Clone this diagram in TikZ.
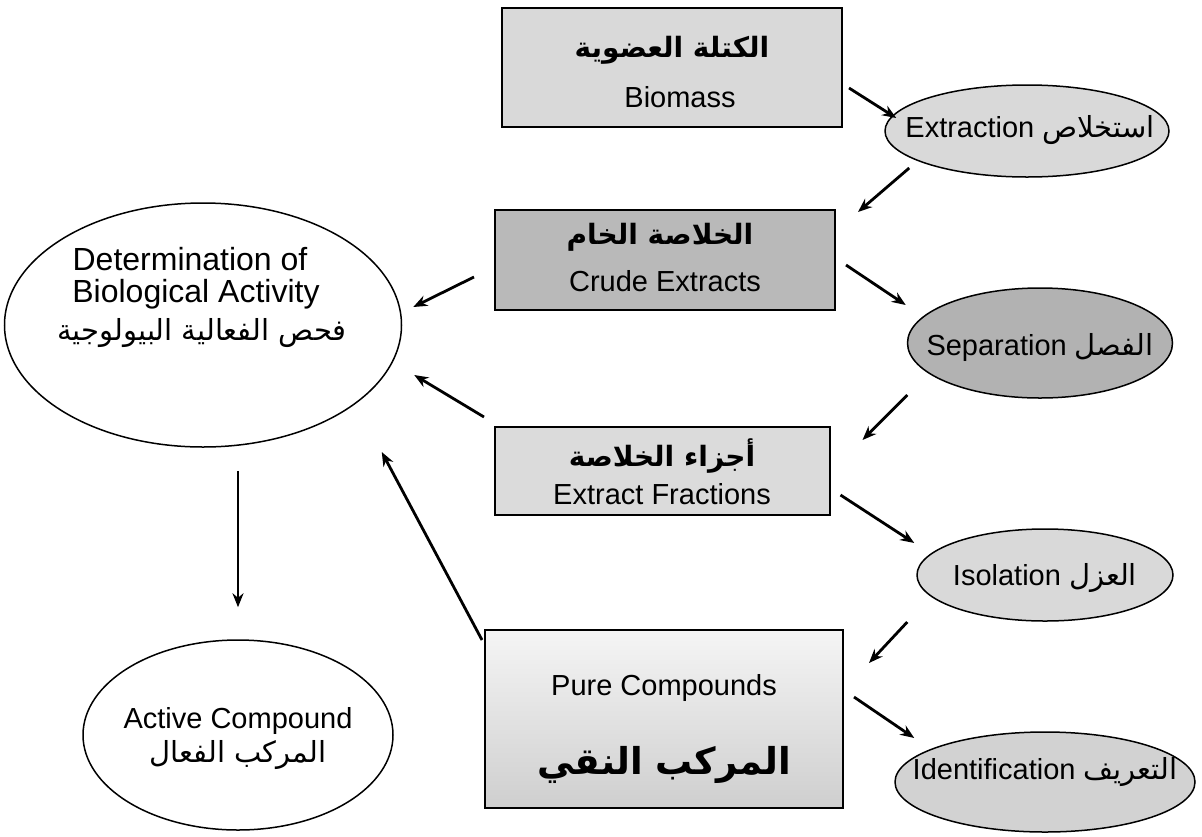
\documentclass[tikz,border=0pt]{standalone}
\usepackage{fontspec}
\setmainfont{Liberation Sans}
\newfontfamily\arfont[Script=Arabic]{DejaVu Sans}
\TeXXeTstate=1
\usetikzlibrary{shapes.geometric,arrows.meta}
\newcommand{\AR}[1]{{\arfont\beginR #1\endR}}
\tikzset{
  box/.style={draw, line width=2pt, rectangle, inner sep=0pt},
  oval/.style={draw, line width=1.5pt, ellipse, inner sep=0pt},
  txt/.style={inner sep=0pt, align=center, font=\fontsize{29}{33}\selectfont},
  lt/.style={inner sep=0pt, align=center, font=\fontsize{32}{36}\selectfont},
  lat/.style={inner sep=0pt, align=center, font=\fontsize{29}{33}\selectfont},
  artxt/.style={inner sep=0pt, align=center, font=\fontsize{28}{32}\selectfont\bfseries},
  arr/.style={line width=2.8pt, -{Stealth[length=14pt,width=11pt]}},
}
\begin{document}
\begin{tikzpicture}[x=1pt,y=-1pt]
\useasboundingbox (0,0) rectangle (1202,836);
% right column boxes and ovals
\node[box, fill=gray!30, minimum width=340pt, minimum height=119pt] (bio) at (672,67) {};
\node[artxt] (bioA) at (672,50) {\AR{الكتلة العضوية}};
\node[txt] (bioE) at (680,97) {Biomass};

\node[oval, fill=gray!30, minimum width=284pt, minimum height=92pt] (ext) at (1027,131) {};
\node[txt] (extT) at (1030,130) {Extraction \AR{استخلاص}};

\node[box, fill=gray!55, minimum width=340pt, minimum height=100pt] (crude) at (665,260) {};
\node[artxt] (crudeA) at (660,237) {\AR{الخلاصة الخام}};
\node[txt] (crudeE) at (665,281) {Crude Extracts};

\node[oval, fill=gray!60, minimum width=265pt, minimum height=110pt] (sep) at (1040,343) {};
\node[txt] (sepT) at (1040,347) {Separation \AR{الفصل}};

\node[box, fill=gray!28, minimum width=335pt, minimum height=88pt] (frac) at (662,471) {};
\node[artxt] (fracA) at (662,456) {\AR{أجزاء الخلاصة}};
\node[txt] (fracE) at (662,494) {Extract Fractions};

\node[oval, fill=gray!30, minimum width=256pt, minimum height=92pt] (iso) at (1045,575) {};
\node[txt] (isoT) at (1045,578) {Isolation \AR{العزل}};

\node[box, top color=gray!8, bottom color=gray!38, minimum width=358pt, minimum height=178pt] (pure) at (664,719) {};
\node[txt] (pureE) at (664,688) {Pure Compounds};
\node[inner sep=0pt, font=\fontsize{37}{42}\selectfont\bfseries] (pureA) at (664,765) {\AR{المركب النقي}};

\node[oval, fill=gray!35, minimum width=300pt, minimum height=100pt] (ident) at (1045,782) {};
\node[txt] (identT) at (1045,772) {Identification \AR{التعريف}};

% left column ovals
\node[oval, minimum width=397pt, minimum height=244pt] (det) at (203,325) {};
\node[lt] (detE1) at (190,259) {Determination of};
\node[lt] (detE2) at (196,294) {Biological Activity};
\node[lat] (detA) at (202,333) {\AR{فحص الفعالية البيولوجية}};

\node[oval, minimum width=310pt, minimum height=190pt] (act) at (238,735) {};
\node[lat] (actE) at (238,721) {Active Compound};
\node[lat] (actA) at (238,755) {\AR{المركب الفعال}};

% arrows
\draw[arr] ([shift={(6,21)}]bio.east) -- ([shift={(12,-13)}]ext.west);
\draw[arr] ([shift={(25,37)}]ext.west) -- ([shift={(22,-48)}]crude.east);
\draw[arr] ([shift={(10,5)}]crude.east) -- ([shift={(-1,-38)}]sep.west);
\draw[arr] ([shift={(0.5,52)}]sep.west) -- ([shift={(32,-31)}]frac.east);
\draw[arr] ([shift={(10,24)}]frac.east) -- ([shift={(-2,-32)}]iso.west);
\draw[arr] ([shift={(-9,47)}]iso.west) -- ([shift={(25,-56)}]pure.east);
\draw[arr] ([shift={(10,-22)}]pure.east) -- ([shift={(20,-44)}]ident.west);
\draw[arr] ([shift={(-20,17)}]crude.west) -- ([shift={(11,-18)}]det.east);
\draw[arr] ([shift={(-9.5,-54)}]frac.west) -- ([shift={(12,50)}]det.east);
\draw[arr] ([shift={(-2,-79)}]pure.west) -- ([shift={(-20.5,127)}]det.east);
\draw[arr] ([shift={(35,23)}]det.south) -- ([shift={(0,-32)}]act.north);
\end{tikzpicture}
\end{document}
